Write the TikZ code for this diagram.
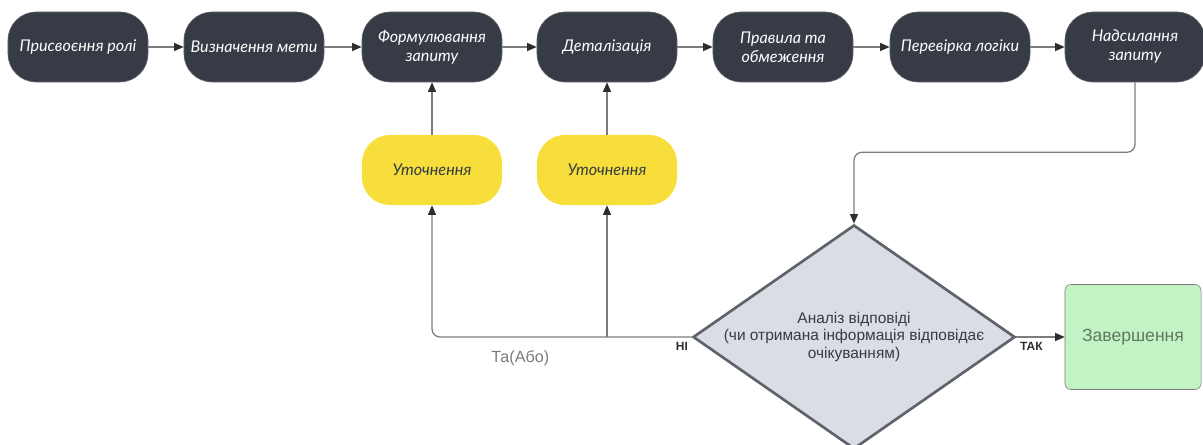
\documentclass[tikz,border=0pt]{standalone}
\usepackage{fontspec}
\setmainfont{Liberation Sans}
\newfontfamily\stagefont{Lato}
\usetikzlibrary{arrows.meta,positioning,shapes.geometric}

\definecolor{slate}{HTML}{363B45}
\definecolor{lemon}{HTML}{F8DE3A}
\definecolor{mist}{HTML}{DADDE3}
\definecolor{mint}{HTML}{C3F3C5}
\definecolor{moss}{HTML}{5E7A5F}
\definecolor{wire}{HTML}{7C7C7C}
\definecolor{tipdark}{HTML}{2E2E2E}

\tikzset{
  stage/.style={rectangle, rounded corners=0.7cm, fill=slate, draw=slate!75!white,
    minimum width=3.5cm, minimum height=1.75cm, align=center, text=white,
    font=\stagefont\itshape\fontsize{11.5}{13.5}\selectfont},
  refine/.style={rectangle, rounded corners=0.7cm, fill=lemon,
    minimum width=3.5cm, minimum height=1.75cm, text=slate,
    font=\stagefont\itshape\fontsize{11.5}{13.5}\selectfont},
  decision/.style={diamond, fill=mist, draw=slate!80!white, line width=1.9pt,
    minimum width=8.05cm, minimum height=5.6cm, inner sep=0pt},
  dectext/.style={align=center, text=slate, font=\fontsize{11}{12.5}\selectfont},
  finish/.style={rectangle, rounded corners=0.15cm, fill=mint, draw=wire,
    minimum width=3.4cm, minimum height=2.625cm, text=moss,
    font=\fontsize{12.5}{14}\selectfont},
  answer/.style={font=\bfseries\fontsize{8.5}{10}\selectfont, text=tipdark, inner sep=1pt},
  flow/.style={draw=wire, line width=0.9pt, ->},
}

\begin{document}
\begin{tikzpicture}[x=0.025cm, y=-0.025cm,
  >={Triangle[length=2.4mm,width=2mm,color=tipdark]}]
  \useasboundingbox (0,0) rectangle (1203,445);
  %% top row
  \node[stage] (role)   at (78,47)   {Присвоєння ролі};
  \node[stage] (goal)   at (254,47)  {Визначення мети};
  \node[stage] (query)  at (432,47)  {Формулювання\\запиту};
  \node[stage] (detail) at (607,47)  {Деталізація};
  \node[stage] (rules)  at (783,47)  {Правила та\\обмеження};
  \node[stage] (logic)  at (960,47)  {Перевірка логіки};
  \node[stage] (send)   at (1135,47) {Надсилання\\запиту};
  \draw[flow] (role) -- (goal);
  \draw[flow] (goal) -- (query);
  \draw[flow] (query) -- (detail);
  \draw[flow] (detail) -- (rules);
  \draw[flow] (rules) -- (logic);
  \draw[flow] (logic) -- (send);
  %% refinement loop
  \node[refine] (refine1) at (432,170) {Уточнення};
  \node[refine] (refine2) at (607,170) {Уточнення};
  \draw[flow] (refine1) -- (query);
  \draw[flow] (refine2) -- (detail);
  %% check of the answer
  \node[decision] (check) at (854,337) {};
  \node[dectext] (checktext) at (check.center)
    {Аналіз відповіді\\(чи отримана інформація відповідає\\очікуванням)};
  \node[finish] (done) at (1133,337) {Завершення};
  \draw[flow, rounded corners=0.2cm] (send.south) -- ++(0,70) -| (check.north);
  \draw[flow] (check.east) -- (done.west);
  \draw[flow, rounded corners=0.2cm] (check.west) -| node[pos=0.33, below=0.22cm,
    text=wire, font=\fontsize{11.5}{13}\selectfont] (andor) {Та(Або)} (refine1.south);
  \draw[flow] (check.west -| refine2.south) -- (refine2.south);
  \node[answer, below left=0.08cm and 0.05cm of check.west] (no) {НІ};
  \node[answer, below right=0.1cm and 0.05cm of check.east] (yes) {ТАК};
\end{tikzpicture}
\end{document}
